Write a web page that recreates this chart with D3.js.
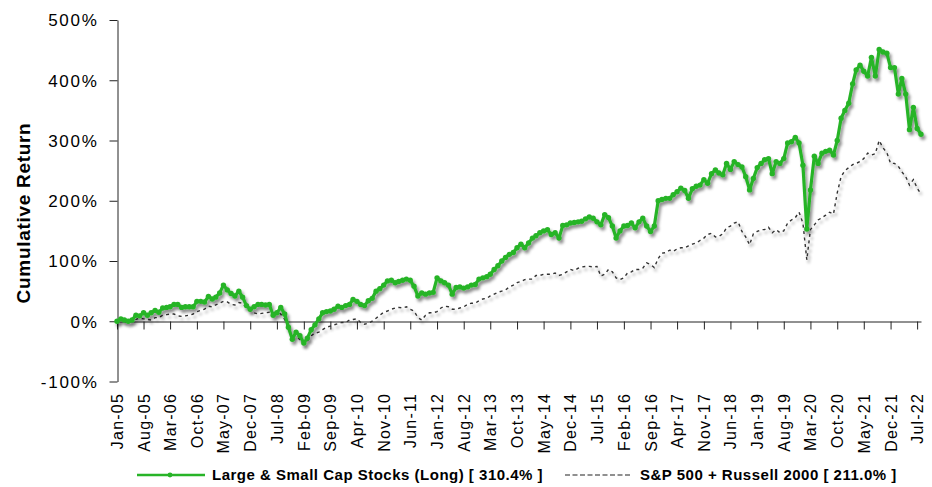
<!DOCTYPE html>
<html>
<head>
<meta charset="utf-8">
<script src="https://cdn.jsdelivr.net/npm/d3@7"></script>
<style>
  html, body { margin: 0; padding: 0; background: #fff; }
  svg { display: block; font-family: Arial, "Liberation Sans", sans-serif; }
</style>
</head>
<body>
<svg id="chart" width="932" height="487"></svg>
<script>
// ---- Data (monthly cumulative return, %) ----
const startMonth = "2005-01";
const seriesNames = ["Large & Small Cap Stocks (Long) [ 310.4% ]", "S&P 500 + Russell 2000 [ 211.0% ]"];
const yTicks = [-100, 0, 100, 200, 300, 400, 500];
const xTickLabels = ["Jan-05","Aug-05","Mar-06","Oct-06","May-07","Dec-07","Jul-08","Feb-09","Sep-09","Apr-10",
  "Nov-10","Jun-11","Jan-12","Aug-12","Mar-13","Oct-13","May-14","Dec-14","Jul-15","Feb-16","Sep-16","Apr-17",
  "Nov-17","Jun-18","Jan-19","Aug-19","Mar-20","Oct-20","May-21","Dec-21","Jul-22"];

const longValues = [
  0, 4, 2, 0, 2, 10, 9, 14, 10, 14, 18, 15,
  22, 23, 24, 28, 28, 23, 24, 24, 24, 33, 33, 32,
  41, 37, 40, 47, 60, 52, 46, 42, 50, 40, 26, 20,
  24, 28, 28, 27, 28, 10, 14, 23, 12, -10, -30, -18,
  -24, -36, -28, -14, -6, 4, 14, 16, 17, 20, 25, 23,
  26, 28, 36, 33, 28, 26, 34, 38, 50, 54, 60, 67,
  68, 64, 66, 68, 70, 68, 58, 42, 47, 45, 47, 48,
  72, 67, 64, 60, 45, 56, 57, 55, 57, 60, 61, 70,
  72, 74, 78, 86, 92, 100, 106, 111, 114, 122, 128, 122,
  130, 138, 142, 147, 150, 152, 144, 147, 138, 159, 160, 163,
  164, 165, 166, 170, 173, 171, 165, 160, 177, 172, 158, 138,
  150, 158, 159, 163, 155, 165, 171, 158, 149, 158, 200, 202,
  204, 204, 210, 215, 221, 217, 204, 220, 224, 226, 235, 229,
  245, 251, 246, 243, 262, 252, 265, 260, 256, 240, 218, 237,
  255, 262, 268, 270, 245, 265, 262, 270, 296, 298, 305, 296,
  259, 153, 218, 274, 262, 279, 282, 284, 276, 300, 337, 350,
  362, 394, 417, 425, 415, 407, 438, 407, 451, 447, 445, 421,
  421, 377, 403, 377, 318, 355, 320, 310.4
];

const indexValues = [
  0, 2, 0, -2, 1, 3, 5, 4, 3, 2, 6, 6,
  10, 11, 12, 12, 9, 8, 9, 10, 12, 16, 18, 20,
  25, 24, 27, 30, 33, 32, 28, 27, 31, 30, 22, 17,
  14, 12, 13, 14, 15, 14, 15, 12, 3, -12, -24, -26,
  -30, -38, -33, -24, -20, -18, -14, -10, -8, -6, -4, -2,
  -2, 2, 3, 4, -2, -5, -3, 0, 5, 10, 15, 17,
  20, 22, 23, 22, 24, 20, 17, 6, 2, 10, 14, 14,
  16, 22, 25, 24, 20, 20, 22, 24, 28, 30, 30, 34,
  37, 38, 42, 45, 48, 50, 52, 57, 60, 64, 66, 69,
  70, 70, 76, 76, 78, 78, 78, 80, 76, 78, 82, 86,
  84, 88, 90, 91, 91, 90, 91, 75, 78, 86, 82, 72,
  69, 72, 80, 82, 86, 86, 88, 97, 94, 89, 104, 113,
  114, 118, 116, 120, 122, 122, 125, 128, 130, 134, 138, 144,
  146, 140, 141, 145, 155, 158, 163, 165, 149, 140, 127, 145,
  149, 152, 152, 156, 147, 152, 147, 150, 163, 168, 172, 181,
  163, 102, 152, 160, 168, 172, 176, 181, 178, 213, 240, 250,
  255, 260, 262, 265, 270, 279, 276, 278, 300, 288, 280, 262,
  262, 257, 248, 240, 226, 235, 221, 211.0
];

// ---- Chart ----
const svg = d3.select("#chart");
const parseMonth = d3.timeParse("%Y-%m");
const parseLabel = d3.timeParse("%b-%y");
const t0 = parseMonth(startMonth);
const dates = longValues.map((_, i) => d3.timeMonth.offset(t0, i));

const x = d3.scaleTime().domain([dates[0], dates[dates.length - 1]]).range([117, 921]);
const y = d3.scaleLinear().domain([-100, 500]).range([381.5, 20]);

const defs = svg.append("defs");
const f = defs.append("filter").attr("id", "shadow")
  .attr("x", "-5%").attr("y", "-10%").attr("width", "110%").attr("height", "130%");
f.append("feDropShadow").attr("dx", 2).attr("dy", 3).attr("stdDeviation", 1.6)
  .attr("flood-color", "#000").attr("flood-opacity", 0.45);

const axisColor = "#222";

// Y axis
const yAxis = d3.axisLeft(y).tickValues(yTicks).tickSize(8).tickSizeOuter(0).tickPadding(11)
  .tickFormat(d => d + "%");
const gy = svg.append("g").attr("transform", "translate(117.5,0)").call(yAxis);
gy.select(".domain").attr("stroke", axisColor);
gy.selectAll(".tick line").attr("stroke", axisColor);
gy.selectAll(".tick text").attr("fill", "#000").style("font-size", "17px").style("letter-spacing", "1.7px")
  .attr("dy", "0.35em");

// X axis at 0%
const xTickDates = xTickLabels.map(s => parseLabel(s));
const xAxis = d3.axisBottom(x).tickValues(xTickDates).tickSize(8).tickSizeOuter(0)
  .tickFormat(d3.timeFormat("%b-%y"));
const gx = svg.append("g").attr("transform", `translate(0,${Math.round(y(0)) + 0.5})`).call(xAxis);
gx.select(".domain").attr("stroke", axisColor);
gx.selectAll(".tick line").attr("stroke", axisColor);
gx.selectAll(".tick text").remove();

// X labels (rotated), placed below the chart area
const labelsG = svg.append("g");
labelsG.selectAll("text").data(xTickDates).join("text")
  .attr("transform", d => `translate(${x(d) + 6},393) rotate(-90)`)
  .attr("text-anchor", "end")
  .style("font-size", "16px")
  .style("letter-spacing", "1.2px")
  .attr("fill", "#000")
  .text(d3.timeFormat("%b-%y"));

// Y title
svg.append("text")
  .attr("transform", "translate(30,213) rotate(-90)")
  .attr("text-anchor", "middle")
  .style("font-size", "19px").style("font-weight", "bold").style("letter-spacing", "0.7px")
  .text("Cumulative Return");

// Lines
const lineGen = vals => d3.line().x((d, i) => x(dates[i])).y(d => y(d))(vals);

svg.append("path")
  .attr("d", lineGen(indexValues))
  .attr("fill", "none").attr("stroke", "#333").attr("stroke-width", 1.4)
  .attr("stroke-dasharray", "3,3.5")
  .attr("filter", "url(#shadow)");

const gGreen = svg.append("g").attr("filter", "url(#shadow)");
const green = "#28b428";
gGreen.append("path")
  .attr("d", lineGen(longValues))
  .attr("fill", "none").attr("stroke", green).attr("stroke-width", 3.2).attr("stroke-linejoin", "round");
gGreen.selectAll("circle").data(longValues).join("circle")
  .attr("cx", (d, i) => x(dates[i])).attr("cy", d => y(d)).attr("r", 2.7).attr("fill", green);

// Legend
const lg = svg.append("g");
lg.append("line").attr("x1", 137).attr("x2", 205).attr("y1", 475).attr("y2", 475)
  .attr("stroke", green).attr("stroke-width", 2.5);
lg.append("circle").attr("cx", 170).attr("cy", 475).attr("r", 2.4).attr("fill", green);
lg.append("text").attr("x", 212).attr("y", 480).style("font-size", "15px").style("font-weight", "bold")
  .style("letter-spacing", "0.5px").text(seriesNames[0]);
lg.append("line").attr("x1", 565).attr("x2", 632).attr("y1", 475).attr("y2", 475)
  .attr("stroke", "#222").attr("stroke-width", 1.2).attr("stroke-dasharray", "5,2.5");
lg.append("text").attr("x", 640).attr("y", 480).style("font-size", "15px").style("font-weight", "bold")
  .style("letter-spacing", "0.5px").text(seriesNames[1]);
</script>
</body>
</html>
